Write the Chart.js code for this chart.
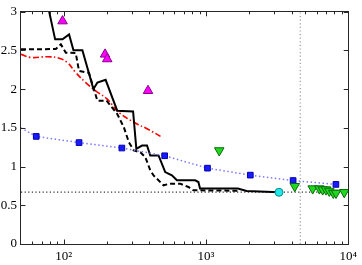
<!DOCTYPE html>
<html>
<head>
<meta charset="UTF-8">
<title>chart</title>
<script src="https://cdn.jsdelivr.net/npm/chart.js@4.4.1/dist/chart.umd.min.js"></script>
<style>
  * { margin: 0; padding: 0; }
  body { background: #fff; width: 362px; height: 265px; overflow: hidden; }
  #wrap { position: relative; width: 362px; height: 265px; }
</style>
</head>
<body>
<div id="wrap"><canvas id="chart"></canvas></div>
<script>
// black solid step curve
const solidX = [76, 86.9, 97.9, 108.9, 116.9, 135.1, 161.5, 172.3, 196.8, 237.5, 307, 323.6, 354.6, 384.5, 405.6, 463.5, 516.5, 575.5, 623.7, 837.7, 883.7, 907.5, 1675, 1927, 3260];
const solidY = [3.14, 2.644, 2.644, 2.708, 2.503, 2.503, 2.001, 2.086, 2.121, 1.722, 1.713, 1.230, 1.272, 1.272, 1.144, 1.144, 0.929, 0.887, 0.823, 0.823, 0.801, 0.716, 0.716, 0.685, 0.668];

// black dashed step curve
const dashX = [50, 87.9, 95.3, 103.3, 121.3, 127.9, 150.3, 172.3, 200, 237.5, 264.4, 286.6, 310.6, 345.4, 374.3, 405.6, 427.6, 502.3, 559.6, 657.4, 751.6, 814.4, 1730];
const dashY = [2.515, 2.519, 2.58, 2.472, 2.468, 2.237, 2.211, 1.851, 1.851, 1.68, 1.508, 1.315, 1.208, 1.186, 1.122, 0.951, 0.887, 0.758, 0.78, 0.78, 0.737, 0.694, 0.688];

// red dash-dot curve
const redX = [50, 58.8, 76.9, 92.7, 106.1, 121.3, 142.5, 167.5, 202, 243.8, 327.6, 384.5, 489.8];
const redY = [2.451, 2.41, 2.42, 2.400, 2.343, 2.215, 2.086, 1.979, 1.872, 1.700, 1.551, 1.490, 1.379];

// blue dotted line with squares (first point has no marker)
const blueX = [50, 64, 128, 256, 512, 1024, 2048, 4096, 8192];
const blueY = [1.50, 1.39, 1.31, 1.24, 1.14, 0.98, 0.89, 0.82, 0.77];

// magenta up triangles
const magX = [98, 195, 202, 391];
const magY = [2.88, 2.45, 2.39, 1.98];

// green down triangles
const greenX = [1239, 4207, 5623, 6266, 6610, 6982, 7362, 7852, 8204, 9376];
const greenY = [1.208, 0.746, 0.716, 0.716, 0.703, 0.703, 0.685, 0.659, 0.659, 0.668];

// cyan circle
const cyanX = [3260];
const cyanY = [0.668];

// reference lines
const hLineY = 0.67;
const vLineX = 4600;

const xTicks = [100, 1000, 10000];
const xTickLabels = ['10\u00B2', '10\u00B3', '10\u2074'];
const yTicks = [0, 0.5, 1, 1.5, 2, 2.5, 3];
const yTickLabels = ['0', '0.5', '1', '1.5', '2', '2.5', '3'];

const xMinor = [];
[10, 100, 1000].forEach(d => { for (let k = 2; k <= 9; k++) if (k * d > 50) xMinor.push(k * d); });

const zip = (xs, ys) => xs.map((x, i) => ({x: x, y: ys[i]}));

const frame = {
  id: 'frame',
  afterDatasetsDraw(chart) {
    const {ctx, chartArea: a, scales: {x, y}} = chart;
    ctx.save();
    ctx.strokeStyle = '#262626';
    ctx.lineWidth = 1;
    ctx.beginPath();
    xMinor.forEach(v => {
      const px = Math.round(x.getPixelForValue(v)) + 0.5;
      ctx.moveTo(px, a.bottom); ctx.lineTo(px, a.bottom - 2.5);
      ctx.moveTo(px, a.top); ctx.lineTo(px, a.top + 2.5);
    });
    xTicks.forEach(v => {
      const px = Math.round(x.getPixelForValue(v)) + 0.5;
      ctx.moveTo(px, a.bottom); ctx.lineTo(px, a.bottom - 4.5);
      ctx.moveTo(px, a.top); ctx.lineTo(px, a.top + 4.5);
    });
    yTicks.forEach(v => {
      const py = Math.round(y.getPixelForValue(v)) + 0.5;
      ctx.moveTo(a.left, py); ctx.lineTo(a.left + 4.5, py);
      ctx.moveTo(a.right, py); ctx.lineTo(a.right - 4.5, py);
    });
    ctx.stroke();
    ctx.strokeRect(Math.round(a.left) - 0.5, Math.round(a.top) - 0.5, Math.round(a.right - a.left) + 1, Math.round(a.bottom - a.top) + 1);
    ctx.restore();
  }
};

new Chart(document.getElementById('chart'), {
  type: 'line',
  data: {
    datasets: [
      {
        data: zip(magX, magY), showLine: false, order: 1,
        pointStyle: 'triangle', pointRadius: 5.5,
        pointBackgroundColor: '#ff00ff', pointBorderColor: '#8a008a', pointBorderWidth: 1
      },
      {
        data: zip(greenX, greenY), showLine: false, order: 2,
        pointStyle: 'triangle', pointRotation: 180, pointRadius: 5.5,
        pointBackgroundColor: '#1fd81f', pointBorderColor: '#0a6a0a', pointBorderWidth: 1
      },
      {
        data: zip(cyanX, cyanY), showLine: false, order: 3,
        pointStyle: 'circle', pointRadius: 4,
        pointBackgroundColor: '#22e8e8', pointBorderColor: '#0a8a8a', pointBorderWidth: 1
      },
      {
        data: zip(blueX, blueY), order: 4,
        borderColor: '#7b7bff', borderWidth: 1.5, borderDash: [1.5, 2.5], tension: 0,
        pointStyle: 'rect', pointRadius: ctx => ctx.dataIndex === 0 ? 0 : 4,
        pointBackgroundColor: '#1a1aff', pointBorderColor: '#0000b0', pointBorderWidth: 1
      },
      {
        data: zip(solidX, solidY), order: 5,
        borderColor: '#000', borderWidth: 2, tension: 0, pointRadius: 0
      },
      {
        data: zip(dashX, dashY), order: 6,
        borderColor: '#000', borderWidth: 2, borderDash: [5, 3], tension: 0, pointRadius: 0
      },
      {
        data: zip(redX, redY), order: 7,
        borderColor: '#ff0000', borderWidth: 1.6, borderDash: [6, 2.5, 1.5, 2.5], tension: 0.4, pointRadius: 0
      },
      {
        data: [{x: 50, y: hLineY}, {x: 10000, y: hLineY}], order: 8,
        borderColor: '#333', borderWidth: 1.2, borderDash: [1.2, 2.4], pointRadius: 0
      },
      {
        data: [{x: vLineX, y: 0}, {x: vLineX, y: 3}], order: 9,
        borderColor: '#999', borderWidth: 1.2, borderDash: [1.2, 2.4], pointRadius: 0
      }
    ]
  },
  options: {
    responsive: true,
    maintainAspectRatio: false,
    animation: false,
    layout: { padding: { top: 11, right: 13, left: 0, bottom: 0 } },
    plugins: { legend: { display: false }, tooltip: { enabled: false } },
    scales: {
      x: {
        type: 'logarithmic', min: 50, max: 10000,
        grid: { display: false, drawTicks: false },
        border: { display: false },
        afterBuildTicks: s => { s.ticks = xTicks.map(v => ({value: v})); },
        afterFit: s => { s.height = 21; },
        ticks: {
          autoSkip: false, maxRotation: 0, padding: 5, color: '#000',
          font: { family: 'Liberation Serif', size: 13 },
          callback: v => { const i = xTicks.indexOf(v); return i >= 0 ? xTickLabels[i] : ''; }
        }
      },
      y: {
        type: 'linear', min: 0, max: 3,
        grid: { display: false, drawTicks: false },
        border: { display: false },
        afterBuildTicks: s => { s.ticks = yTicks.map(v => ({value: v})); },
        afterFit: s => { s.width = 21; },
        ticks: {
          autoSkip: false, padding: 4, color: '#000',
          font: { family: 'Liberation Serif', size: 13 },
          callback: v => { const i = yTicks.indexOf(v); return i >= 0 ? yTickLabels[i] : ''; }
        }
      }
    }
  },
  plugins: [frame]
});
</script>
</body>
</html>
